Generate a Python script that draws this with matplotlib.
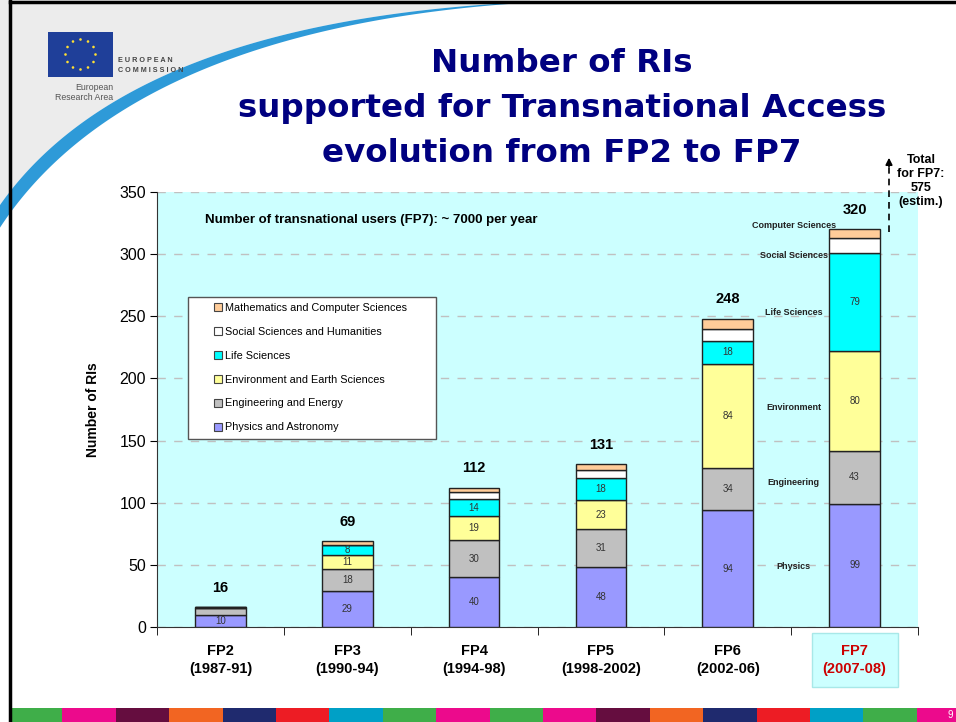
import numpy as np
import matplotlib
matplotlib.use("Agg")
import matplotlib.pyplot as plt
from matplotlib.patches import Rectangle, Circle, Polygon
from matplotlib.lines import Line2D

# data
periods = ["FP2", "FP3", "FP4", "FP5", "FP6", "FP7"]
years = ["(1987-91)", "(1990-94)", "(1994-98)", "(1998-2002)", "(2002-06)", "(2007-08)"]
physics = [10, 29, 40, 48, 94, 99]
engineering = [5, 18, 30, 31, 34, 43]
environment = [0, 11, 19, 23, 84, 80]
life = [1, 8, 14, 18, 18, 79]
social = [0, 0, 6, 6, 10, 12]
maths = [0, 3, 3, 5, 8, 7]
totals = [16, 69, 112, 131, 248, 320]

series = [
    ("Physics and Astronomy", physics, "#9999FF"),
    ("Engineering and Energy", engineering, "#C0C0C0"),
    ("Environment and Earth Sciences", environment, "#FFFF99"),
    ("Life Sciences", life, "#00FFFF"),
    ("Social Sciences and Humanities", social, "#FFFFFF"),
    ("Mathematics and Computer Sciences", maths, "#FFCC99"),
]
# short names written beside the FP7 bar
fp7_names = ["Physics", "Engineering", "Environment", "Life Sciences",
             "Social Sciences", "Computer Sciences"]
fp7_name_y = [49, 116, 177, 253, 299, 323]

plt.rcParams['font.family'] = ['Liberation Sans', 'DejaVu Sans']

W, H = 956, 722
fig = plt.figure(figsize=(W / 100, H / 100), dpi=100)

# ---- slide decoration (pixel coordinates) ----
bg = fig.add_axes([0, 0, 1, 1], zorder=0)
bg.set_xlim(0, W)
bg.set_ylim(H, 0)
bg.axis("off")

t = np.linspace(0, 1, 200)
p0, p1, p2 = np.array([0, 205]), np.array([130, 20]), np.array([530, 2])
curve = ((1 - t) ** 2)[:, None] * p0 + (2 * (1 - t) * t)[:, None] * p1 + (t ** 2)[:, None] * p2
gray = np.vstack([curve, [[530, 0], [0, 0]]])
bg.add_patch(Polygon(gray, closed=True, facecolor="#ECECEC", edgecolor="none"))
thick = 22 * (1 - t) ** 1.2 + 0.6
inner = curve + np.column_stack([np.zeros_like(t), thick])
band = np.vstack([curve, inner[::-1]])
bg.add_patch(Polygon(band, closed=True, facecolor="#2E9AD8", edgecolor="none"))
bg.plot([10, 10], [0, H], color="black", lw=2.5)
bg.plot([10, W], [1.5, 1.5], color="black", lw=2.5)

# EU logo
bg.add_patch(Rectangle((48, 32), 65, 45, facecolor="#1F3F99", edgecolor="none"))
for a in np.linspace(0, 2 * np.pi, 12, endpoint=False):
    bg.add_patch(Circle((80.5 + 15 * np.cos(a), 54.5 + 15 * np.sin(a)), 1.3,
                        facecolor="#FFE033", edgecolor="none"))
bg.text(118, 60, "E U R O P E A N", fontsize=5.2, fontweight="bold", color="#444444", va="center")
bg.text(118, 71, "C O M M I S S I O N", fontsize=5.2, fontweight="bold", color="#444444", va="center")
bg.text(113, 87, "European", fontsize=6.3, color="#555555", ha="right", va="center")
bg.text(113, 97, "Research Area", fontsize=6.3, color="#555555", ha="right", va="center")

title_lines = ["Number of RIs", "supported for Transnational Access", "evolution from FP2 to FP7"]
for i, line in enumerate(title_lines):
    bg.text(562, 63 + 45 * i, line, fontsize=23.4, fontweight="bold", color="#000080",
            ha="center", va="center", family="DejaVu Sans")

# colour strip at the bottom
strip = ["#3FAE49", "#EC0A8C", "#650D3F", "#F26522", "#1F2A6E", "#ED1C24", "#00A0C6",
         "#3FAE49", "#EC0A8C", "#3FAE49", "#EC0A8C", "#650D3F", "#F26522", "#1F2A6E",
         "#ED1C24", "#00A0C6", "#3FAE49", "#EC0A8C"]
for i, c in enumerate(strip):
    bg.add_patch(Rectangle((9 + 53.4 * i, 708), 53.4, 14, facecolor=c, edgecolor="none"))
bg.text(953, 715, "9", fontsize=7, color="white", ha="right", va="center")

# overlay for the FP7 note, drawn above the chart
top = fig.add_axes([0, 0, 1, 1], zorder=10)
top.set_xlim(0, W)
top.set_ylim(H, 0)
top.axis("off")
top.plot([889, 889], [232, 168], color="black", lw=1.2, ls=(0, (4, 3)))
top.annotate("", xy=(889, 155), xytext=(889, 170),
             arrowprops=dict(arrowstyle="-|>", color="black", lw=1.2, mutation_scale=10))
top.text(921, 181, "Total\nfor FP7:\n575\n(estim.)", fontsize=9, fontweight="bold",
         ha="center", va="center", linespacing=1.25)

# ---- chart ----
ax = fig.add_axes([157 / W, 1 - 627 / H, (918 - 157) / W, (627 - 192) / H], zorder=1)
ax.set_facecolor("#CCFFFF")
x = np.arange(len(periods))
bottom = np.zeros(len(periods))
for name, vals, col in series:
    vals = np.array(vals, dtype=float)
    ax.bar(x, vals, 0.4, bottom=bottom, color=col, edgecolor="#222222", linewidth=1,
           label=name, zorder=3)
    for xi, b, v in zip(x, bottom, vals):
        if v >= 8 and name not in ("Social Sciences and Humanities", "Mathematics and Computer Sciences"):
            ax.text(xi, b + v / 2, f"{int(v)}", ha="center", va="center", fontsize=7,
                    color="#333333", zorder=4)
    bottom += vals

for xi, tot in zip(x, totals):
    ax.text(xi, tot + 10, str(tot), ha="center", va="bottom", fontsize=10.5,
            fontweight="bold", zorder=4)

for name, yy in zip(fp7_names, fp7_name_y):
    ax.text(4.52, yy, name, ha="center", va="center", fontsize=6.5, fontweight="bold",
            color="#222222", zorder=4)

ax.text(0.063, (627 - 220) / 435, "Number of transnational users (FP7): ~ 7000 per year",
        transform=ax.transAxes, fontsize=9.5, fontweight="bold", va="center", zorder=4)

ax.set_xlim(-0.5, len(periods) - 0.5)
ax.set_ylim(0, 350)
ax.set_yticks(np.arange(0, 351, 50))
ax.tick_params(axis="y", labelsize=11.5, length=5, direction="out", pad=3)
ax.yaxis.grid(True, color="#C0C0C0", linestyle=(0, (6, 6)), linewidth=1, zorder=0)
ax.set_axisbelow(True)
ax.set_ylabel("Number of RIs", fontsize=10, fontweight="bold", labelpad=14)

ax.set_xticks(x)
ax.set_xticklabels([f"{p}\n{y}" for p, y in zip(periods, years)], fontsize=10.5,
                   fontweight="bold", linespacing=1.35)
ax.set_xticks(np.arange(-0.5, len(periods), 1), minor=True)
ax.tick_params(axis="x", which="major", length=0, pad=12)
ax.tick_params(axis="x", which="minor", length=6, direction="out")
lab = ax.get_xticklabels()[-1]
lab.set_color("#CC0000")
lab.set_bbox(dict(facecolor="#CCFFFF", edgecolor="#A8E8E8", pad=8))

for s in ("top", "right"):
    ax.spines[s].set_visible(False)
ax.spines["left"].set_color("#333333")
ax.spines["bottom"].set_color("#333333")

# legend in its own framed box
lx0, ly0 = (188 - 157) / 761, (627 - 439) / 435
ax.add_patch(Rectangle((lx0, ly0), 248 / 761, 142 / 435, transform=ax.transAxes,
                       facecolor="white", edgecolor="#555555", lw=1, zorder=5))
handles = [Line2D([], [], marker="s", linestyle="none", markersize=5.5,
                  markerfacecolor=c, markeredgecolor="#444444", markeredgewidth=0.8)
           for _, _, c in series][::-1]
labels = [n for n, _, _ in series][::-1]
leg = ax.legend(handles, labels, loc="upper left", bbox_to_anchor=((215 - 157) / 761, (627 - 303) / 435),
                frameon=False, fontsize=7.8, labelspacing=1.28, handlelength=0.6,
                handletextpad=0.3, borderaxespad=0, borderpad=0)
leg.set_zorder(6)

fig.savefig("out.png", dpi=100)
